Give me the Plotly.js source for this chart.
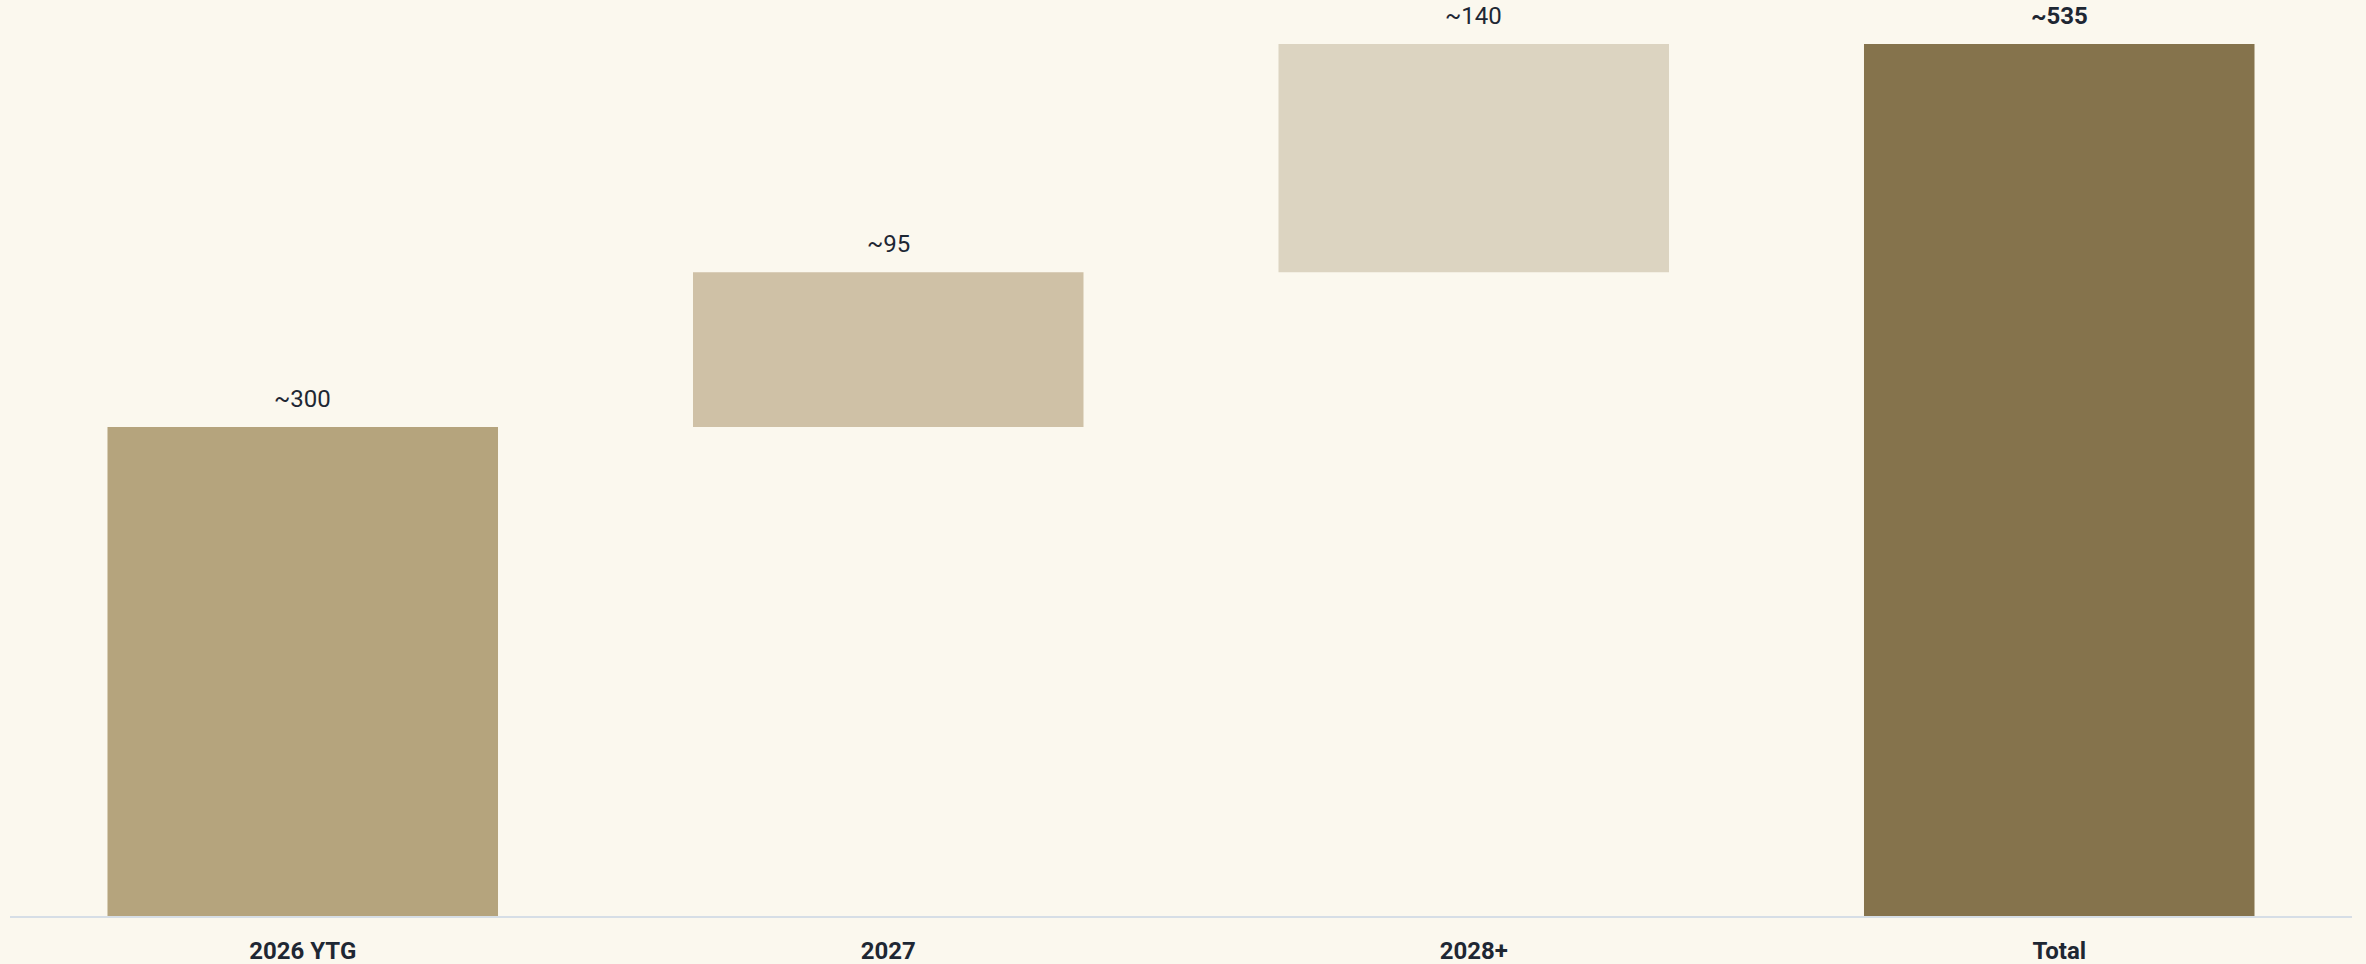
<!DOCTYPE html>
<html>
<head>
<meta charset="utf-8">
<script src="https://cdn.plot.ly/plotly-3.0.1.min.js"></script>
<style>
  html, body { margin: 0; padding: 0; background: #FBF8EE; }
  #chart { width: 2366px; height: 964px; }
</style>
</head>
<body>
<div id="chart"></div>
<script>
const categories = ["2026 YTG", "2027", "2028+", "Total"];
const values = [300, 95, 140, 535];
const measures = ["absolute", "relative", "relative", "total"];
const labels = ["~300", "~95", "~140", "<b>~535</b>"];
const colors = ["#B5A47D", "#CFC1A6", "#DCD4C1", "#85734C"];

// compute bases for floating bars
const bases = [];
const tops = [];
let running = 0;
for (let i = 0; i < values.length; i++) {
  if (measures[i] === "absolute") { bases.push(0); running = values[i]; }
  else if (measures[i] === "relative") { bases.push(running); running += values[i]; }
  else { bases.push(0); }
  tops.push(bases[i] + values[i]);
}

const trace = {
  type: "bar",
  x: categories,
  y: values,
  base: bases,
  marker: { color: colors, line: { width: 0 } },
  hoverinfo: "skip",
  showlegend: false
};

const annotations = categories.map((c, i) => ({
  x: i, y: tops[i], xref: "x", yref: "y",
  text: labels[i], showarrow: false,
  yanchor: "bottom", yshift: 12,
  font: { family: "Roboto, Arial, sans-serif", size: 24, color: "#1E2733" }
}));

const layout = {
  width: 2366, height: 964,
  paper_bgcolor: "#FBF8EE", plot_bgcolor: "#FBF8EE",
  margin: { l: 10, r: 14, t: 44, b: 48, pad: 0 },
  bargap: 0.333,
  showlegend: false,
  xaxis: {
    type: "category",
    range: [-0.5, categories.length - 0.5],
    showgrid: false, zeroline: false,
    showline: true, linecolor: "#D6DEE6", linewidth: 2,
    ticks: "", ticklabelstandoff: 12,
    tickfont: { family: "Roboto, Arial, sans-serif", size: 24, color: "#1E2733", weight: "bold" }
  },
  yaxis: {
    range: [0, 535], visible: false, showgrid: false, zeroline: false
  },
  annotations: annotations
};

Plotly.newPlot("chart", [trace], layout, { displayModeBar: false, staticPlot: true });
</script>
</body>
</html>
